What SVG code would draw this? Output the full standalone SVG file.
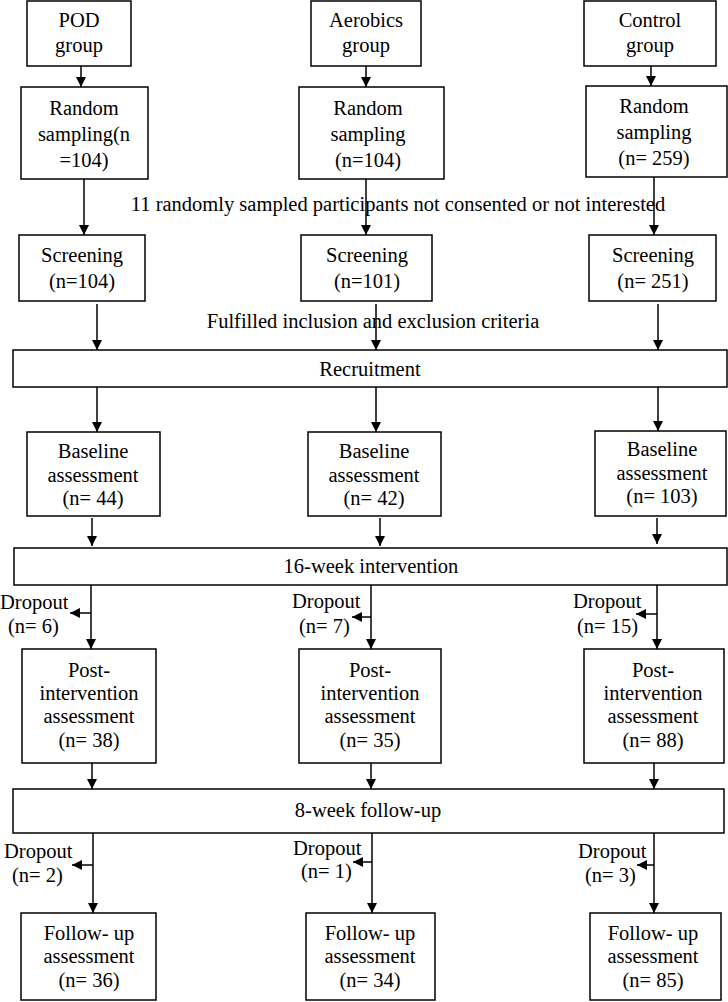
<svg xmlns="http://www.w3.org/2000/svg" width="728" height="1002" viewBox="0 0 728 1002">
<defs>
<style>
.b{fill:#fff;stroke:#000;stroke-width:1.5}
text{font-family:"Liberation Serif","Times New Roman",serif;font-size:20.5px;fill:#000}
.c{text-anchor:middle}
.l{fill:none;stroke:#000;stroke-width:1.5}
</style>
<marker id="ah" markerUnits="userSpaceOnUse" markerWidth="10" markerHeight="12" refX="10" refY="5" orient="auto">
<path d="M0,0 L10,5 L0,10 Z" fill="#000"/>
</marker>
</defs>
<rect width="728" height="1002" fill="#fff"/>
<g id="connectors">
<line class="l" x1="81" y1="66" x2="81" y2="87" marker-end="url(#ah)"/>
<line class="l" x1="366" y1="66" x2="366" y2="87" marker-end="url(#ah)"/>
<line class="l" x1="651" y1="66" x2="651" y2="86" marker-end="url(#ah)"/>
<line class="l" x1="84" y1="179" x2="84" y2="235" marker-end="url(#ah)"/>
<line class="l" x1="366" y1="179" x2="366" y2="235" marker-end="url(#ah)"/>
<line class="l" x1="654" y1="177" x2="654" y2="235" marker-end="url(#ah)"/>
<line class="l" x1="97" y1="304" x2="97" y2="350" marker-end="url(#ah)"/>
<line class="l" x1="376" y1="304" x2="376" y2="350" marker-end="url(#ah)"/>
<line class="l" x1="658" y1="304" x2="658" y2="350" marker-end="url(#ah)"/>
<line class="l" x1="97" y1="387" x2="97" y2="432" marker-end="url(#ah)"/>
<line class="l" x1="376" y1="387" x2="376" y2="432" marker-end="url(#ah)"/>
<line class="l" x1="658" y1="387" x2="658" y2="431" marker-end="url(#ah)"/>
<line class="l" x1="92" y1="518" x2="92" y2="546" marker-end="url(#ah)"/>
<line class="l" x1="380" y1="518" x2="380" y2="546" marker-end="url(#ah)"/>
<line class="l" x1="657" y1="518" x2="657" y2="544" marker-end="url(#ah)"/>
<line class="l" x1="91" y1="585" x2="91" y2="649" marker-end="url(#ah)"/>
<line class="l" x1="371" y1="585" x2="371" y2="649" marker-end="url(#ah)"/>
<line class="l" x1="657" y1="585" x2="657" y2="649" marker-end="url(#ah)"/>
<line class="l" x1="91" y1="613" x2="70" y2="613" marker-end="url(#ah)"/>
<line class="l" x1="371" y1="617" x2="352" y2="617" marker-end="url(#ah)"/>
<line class="l" x1="657" y1="614" x2="636" y2="614" marker-end="url(#ah)"/>
<line class="l" x1="92" y1="763" x2="92" y2="789" marker-end="url(#ah)"/>
<line class="l" x1="371" y1="763" x2="371" y2="789" marker-end="url(#ah)"/>
<line class="l" x1="654" y1="763" x2="654" y2="789" marker-end="url(#ah)"/>
<line class="l" x1="93" y1="833" x2="93" y2="913" marker-end="url(#ah)"/>
<line class="l" x1="372" y1="833" x2="372" y2="913" marker-end="url(#ah)"/>
<line class="l" x1="654" y1="833" x2="654" y2="913" marker-end="url(#ah)"/>
<line class="l" x1="93" y1="865" x2="72" y2="865" marker-end="url(#ah)"/>
<line class="l" x1="372" y1="862" x2="353" y2="862" marker-end="url(#ah)"/>
<line class="l" x1="654" y1="865" x2="637" y2="865" marker-end="url(#ah)"/>
</g>
<g id="pod-group"><rect class="b" x="27" y="1" width="104" height="65"/><text class="c" x="79" y="27">POD</text><text class="c" x="79" y="52">group</text></g>
<g id="aerobics-group"><rect class="b" x="311" y="1" width="110" height="65"/><text class="c" x="366" y="27">Aerobics</text><text class="c" x="366" y="52">group</text></g>
<g id="control-group"><rect class="b" x="584" y="1" width="132" height="65"/><text class="c" x="650" y="27">Control</text><text class="c" x="650" y="52">group</text></g>
<g id="pod-random"><rect class="b" x="21" y="87" width="127" height="92"/><text class="c" x="84" y="115">Random</text><text class="c" x="84" y="141">sampling(n</text><text class="c" x="84" y="167">=104)</text></g>
<g id="aerobics-random"><rect class="b" x="299" y="87" width="145" height="92"/><text class="c" x="368" y="115">Random</text><text class="c" x="368" y="141">sampling</text><text class="c" x="368" y="167">(n=104)</text></g>
<g id="control-random"><rect class="b" x="586" y="86" width="141" height="91"/><text class="c" x="654" y="113">Random</text><text class="c" x="654" y="139">sampling</text><text class="c" x="654" y="165">(n= 259)</text></g>
<g id="note-consent"><text class="c" x="398" y="211">11 randomly sampled participants not consented or not interested</text></g>
<g id="pod-screening"><rect class="b" x="19" y="235" width="126" height="66"/><text class="c" x="82" y="262">Screening</text><text class="c" x="82" y="288">(n=104)</text></g>
<g id="aerobics-screening"><rect class="b" x="301" y="235" width="131" height="66"/><text class="c" x="367" y="262">Screening</text><text class="c" x="367" y="288">(n=101)</text></g>
<g id="control-screening"><rect class="b" x="589" y="235" width="127" height="66"/><text class="c" x="653" y="262">Screening</text><text class="c" x="653" y="288">(n= 251)</text></g>
<g id="note-criteria"><text class="c" x="373" y="328">Fulfilled inclusion and exclusion criteria</text></g>
<g id="recruitment"><rect class="b" x="13" y="350" width="714" height="37"/><text class="c" x="370" y="376">Recruitment</text></g>
<g id="pod-baseline"><rect class="b" x="27" y="432" width="133" height="84"/><text class="c" x="93" y="458">Baseline</text><text class="c" x="93" y="482">assessment</text><text class="c" x="93" y="505">(n= 44)</text></g>
<g id="aerobics-baseline"><rect class="b" x="308" y="432" width="133" height="84"/><text class="c" x="374" y="458">Baseline</text><text class="c" x="374" y="482">assessment</text><text class="c" x="374" y="505">(n= 42)</text></g>
<g id="control-baseline"><rect class="b" x="595" y="431" width="131" height="85"/><text class="c" x="662" y="456">Baseline</text><text class="c" x="662" y="480">assessment</text><text class="c" x="662" y="503">(n= 103)</text></g>
<g id="intervention"><rect class="b" x="14" y="548" width="713" height="37"/><text class="c" x="371" y="573">16-week intervention</text></g>
<g id="pod-dropout1"><text x="0" y="609">Dropout</text><text x="8" y="633">(n= 6)</text></g>
<g id="aerobics-dropout1"><text x="292" y="608">Dropout</text><text x="299" y="633">(n= 7)</text></g>
<g id="control-dropout1"><text x="573" y="608">Dropout</text><text x="577" y="633">(n= 15)</text></g>
<g id="pod-post"><rect class="b" x="22" y="649" width="134" height="114"/><text class="c" x="89" y="677">Post-</text><text class="c" x="89" y="700">intervention</text><text class="c" x="89" y="723">assessment</text><text class="c" x="89" y="747">(n= 38)</text></g>
<g id="aerobics-post"><rect class="b" x="299" y="649" width="142" height="114"/><text class="c" x="370" y="677">Post-</text><text class="c" x="370" y="700">intervention</text><text class="c" x="370" y="723">assessment</text><text class="c" x="370" y="747">(n= 35)</text></g>
<g id="control-post"><rect class="b" x="584" y="649" width="140" height="114"/><text class="c" x="653" y="677">Post-</text><text class="c" x="653" y="700">intervention</text><text class="c" x="653" y="723">assessment</text><text class="c" x="653" y="747">(n= 88)</text></g>
<g id="followup"><rect class="b" x="13" y="789" width="711" height="44"/><text class="c" x="368" y="817">8-week follow-up</text></g>
<g id="pod-dropout2"><text x="4" y="858">Dropout</text><text x="12" y="882">(n= 2)</text></g>
<g id="aerobics-dropout2"><text x="293" y="855">Dropout</text><text x="301" y="878">(n= 1)</text></g>
<g id="control-dropout2"><text x="578" y="858">Dropout</text><text x="585" y="882">(n= 3)</text></g>
<g id="pod-fu"><rect class="b" x="21" y="913" width="135" height="87"/><text class="c" x="89" y="940">Follow- up</text><text class="c" x="89" y="963">assessment</text><text class="c" x="89" y="987">(n= 36)</text></g>
<g id="aerobics-fu"><rect class="b" x="306" y="913" width="129" height="87"/><text class="c" x="370" y="940">Follow- up</text><text class="c" x="370" y="963">assessment</text><text class="c" x="370" y="987">(n= 34)</text></g>
<g id="control-fu"><rect class="b" x="590" y="913" width="131" height="87"/><text class="c" x="653" y="940">Follow- up</text><text class="c" x="653" y="963">assessment</text><text class="c" x="653" y="987">(n= 85)</text></g>
</svg>
